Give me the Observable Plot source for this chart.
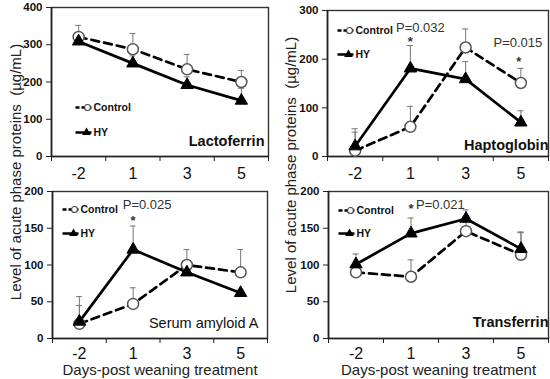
<!DOCTYPE html>
<html><head><meta charset="utf-8">
<script src="https://cdn.jsdelivr.net/npm/d3@7"></script>
<script src="https://cdn.jsdelivr.net/npm/@observablehq/plot@0.6"></script>
<style>
html,body{margin:0;padding:0;background:#fff;}
body{width:550px;height:379px;position:relative;overflow:hidden;font-family:"Liberation Sans",Arial,sans-serif;}
.p{position:absolute;}
.yt{position:absolute;transform:translate(-50%,-50%) rotate(-90deg);white-space:nowrap;font-size:15px;color:#222;}
</style></head><body>
<div class="yt" style="left:15px;top:172px;">Level of acute phase proteins&nbsp; (µg/mL)</div>
<div class="yt" style="left:290px;top:165px;">Level of acute phase proteins&nbsp; (µg/mL)</div>
<script>
const days = ["-2", "1", "3", "5"];
const seriesNames = ["Control", "HY"];
const xTitle = "Days-post weaning treatment";

// Lactoferrin
const lactoTicks = [0, 100, 200, 300, 400];
const lactoControl = [321, 288, 234, 200];
const lactoControlErr = [31, 42, 40, 31];
const lactoHY = [309, 250, 192, 150];
const lactoHYErr = [8, 20, 22, 33];

// Haptoglobin
const haptoTicks = [0, 100, 200, 300];
const haptoControl = [12, 61, 224, 151];
const haptoControlErr = [45, 42, 38, 30];
const haptoHY = [21, 181, 159, 70];
const haptoHYErr = [29, 47, 36, 24];

// Serum amyloid A
const saaTicks = [0, 50, 100, 150, 200];
const saaControl = [20, 47, 100, 90];
const saaControlErr = [37, 22, 21, 31];
const saaHY = [23, 121, 90, 62];
const saaHYErr = [22, 32, 6, 4];

// Transferrin
const tfTicks = [0, 50, 100, 150, 200];
const tfControl = [90, 84, 146, 114];
const tfControlErr = [6, 23, 20, 30];
const tfHY = [101, 143, 163, 122];
const tfHYErr = [14, 21, 12, 23];

// Annotations (day index, value level, text)
const haptoNotes = [
  {i: 1, y: 265, text: "P=0.032", dx: 10, anchor: "middle", bold: false},
  {i: 1, y: 236, text: "*", dx: 0, anchor: "middle", bold: true},
  {i: 3, y: 234, text: "P=0.015", dx: -3, anchor: "middle", bold: false},
  {i: 3, y: 194, text: "*", dx: -2, anchor: "middle", bold: true}
];
const saaNotes = [
  {i: 1, y: 182, text: "P=0.025", dx: 14, anchor: "middle", bold: false},
  {i: 1, y: 160, text: "*", dx: 0, anchor: "middle", bold: true}
];
const tfNotes = [
  {i: 1, y: 176, text: "*", dx: 0, anchor: "middle", bold: true},
  {i: 1, y: 182, text: "P=0.021", dx: 5, anchor: "start", bold: false}
];

const segSymbol = {draw(ctx) { ctx.moveTo(-8, 0); ctx.lineTo(8, 0); }};

function rows(vals, errs, name) {
  return days.map((d, i) => ({i, day: d, series: name, v: vals[i], hi: vals[i] + errs[i]}));
}

function panel(o) {
  const c = rows(o.ctrl, o.ctrlErr, seriesNames[0]);
  const h = rows(o.hy, o.hyErr, seriesNames[1]);
  const all = c.concat(h);
  const bounds = d3.range(days.length + 1).map(k => k - 0.5);
  const lx = o.legend[0], ly = o.legend[1], lgap = o.legend[2];
  const marks = [
    Plot.frame({stroke: "#333", strokeWidth: 1.4}),
    Plot.ruleX([-0.5], {stroke: "#222", strokeWidth: 1.6}),
    Plot.ruleY([0], {stroke: "#222", strokeWidth: 1.6}),
    Plot.axisY({ticks: o.yTicks, tickSize: 5, tickPadding: 4, fontSize: 11.5, fontWeight: "bold", label: null, stroke: "#222"}),
    Plot.axisX({ticks: [0, 1, 2, 3], tickFormat: i => days[i], tickSize: 0, tickPadding: o.xPad, fontSize: 16, label: null}),
    Plot.axisX({ticks: bounds, tickFormat: () => "", tickSize: 5, label: null, stroke: "#222"}),
    Plot.ruleX(all, {x: "i", y1: "v", y2: "hi", stroke: "#777", strokeWidth: 1}),
    Plot.ruleY(all, {x1: d => d.i - 0.055, x2: d => d.i + 0.055, y: "hi", stroke: "#777", strokeWidth: 1}),
    Plot.line(c, {x: "i", y: "v", stroke: "black", strokeWidth: 2.7, strokeDasharray: "8,5"}),
    Plot.line(h, {x: "i", y: "v", stroke: "black", strokeWidth: 2.7}),
    Plot.dot(c, {x: "i", y: "v", r: 5.5, fill: "white", stroke: "#555", strokeWidth: 1.5}),
    Plot.dot(h, {x: "i", y: "v", r: 4.6, symbol: "triangle", fill: "black", stroke: "black", strokeWidth: 1}),
    // legend
    Plot.dot([seriesNames[0]], {frameAnchor: "top-left", dx: lx + 8, dy: ly, symbol: segSymbol, r: 3, fill: "none", stroke: "black", strokeWidth: 2.5, strokeDasharray: "4,2"}),
    Plot.dot([seriesNames[0]], {frameAnchor: "top-left", dx: lx + 12, dy: ly, r: 3, fill: "white", stroke: "#444", strokeWidth: 1.2}),
    Plot.text([seriesNames[0]], {frameAnchor: "top-left", dx: lx + 18, dy: ly, text: d => d, textAnchor: "start", lineAnchor: "middle", fontSize: 10.5, fontWeight: "bold", fill: "#111"}),
    Plot.dot([seriesNames[1]], {frameAnchor: "top-left", dx: lx + 8, dy: ly + lgap, symbol: segSymbol, r: 3, fill: "none", stroke: "black", strokeWidth: 2.5}),
    Plot.dot([seriesNames[1]], {frameAnchor: "top-left", dx: lx + 11, dy: ly + lgap, r: 3.2, symbol: "triangle", fill: "black"}),
    Plot.text([seriesNames[1]], {frameAnchor: "top-left", dx: lx + 18, dy: ly + lgap, text: d => d, textAnchor: "start", lineAnchor: "middle", fontSize: 10.5, fontWeight: "bold", fill: "#111"}),
    // panel name
    Plot.text([o.name], {frameAnchor: "bottom-right", dx: o.nameDx, dy: o.nameDy, text: d => d, textAnchor: "end", lineAnchor: "middle", fontSize: 14.5, fontWeight: o.nameBold ? "bold" : "normal", fill: "#111"})
  ];
  for (const n of o.notes || []) {
    marks.push(Plot.text([n], {x: "i", y: "y", text: "text", dx: n.dx, textAnchor: n.anchor, lineAnchor: "middle", fontSize: 13, fontWeight: n.bold ? "bold" : "normal", fill: "#333"}));
  }
  if (o.xTitle) {
    marks.push(Plot.text([o.xTitle], {frameAnchor: "bottom", dy: 32, text: d => d, lineAnchor: "middle", fontSize: 15, fill: "#222"}));
  }
  const svg = Plot.plot({
    width: o.width, height: o.height,
    marginLeft: o.m[3], marginRight: o.m[1], marginTop: o.m[0], marginBottom: o.m[2],
    style: {fontFamily: "'Liberation Sans', Arial, sans-serif", fontSize: "11px", color: "#111", background: "transparent", overflow: "visible"},
    x: {type: "linear", domain: [-0.5, days.length - 0.5], label: null},
    y: {domain: [0, o.yTicks[o.yTicks.length - 1]], label: null},
    marks
  });
  const wrap = document.createElement("div");
  wrap.className = "p";
  wrap.style.left = o.left + "px";
  wrap.style.top = o.top + "px";
  wrap.appendChild(svg);
  document.body.appendChild(wrap);
}

panel({left: 22, top: 0, width: 253, height: 182, m: [7, 7, 26, 29], xPad: 11,
  ctrl: lactoControl, ctrlErr: lactoControlErr, hy: lactoHY, hyErr: lactoHYErr, yTicks: lactoTicks,
  legend: [24, 100, 25], name: "Lactoferrin", nameBold: true, nameDx: -4, nameDy: -15});
panel({left: 297, top: 0, width: 253, height: 182, m: [10, 2, 26, 30], xPad: 11,
  ctrl: haptoControl, ctrlErr: haptoControlErr, hy: haptoHY, hyErr: haptoHYErr, yTicks: haptoTicks,
  legend: [10, 20, 24], name: "Haptoglobin", nameBold: true, nameDx: 0, nameDy: -11, notes: haptoNotes});
panel({left: 22, top: 182, width: 253, height: 197, m: [9, 8, 41, 30], xPad: 9,
  ctrl: saaControl, ctrlErr: saaControlErr, hy: saaHY, hyErr: saaHYErr, yTicks: saaTicks,
  legend: [10, 18, 24], name: "Serum amyloid A", nameBold: false, nameDx: -9, nameDy: -15, notes: saaNotes, xTitle});
panel({left: 297, top: 182, width: 253, height: 197, m: [9, 2, 41, 31], xPad: 9,
  ctrl: tfControl, ctrlErr: tfControlErr, hy: tfHY, hyErr: tfHYErr, yTicks: tfTicks,
  legend: [10, 19, 23], name: "Transferrin", nameBold: true, nameDx: 0, nameDy: -16, notes: tfNotes, xTitle});
</script>
</body></html>
